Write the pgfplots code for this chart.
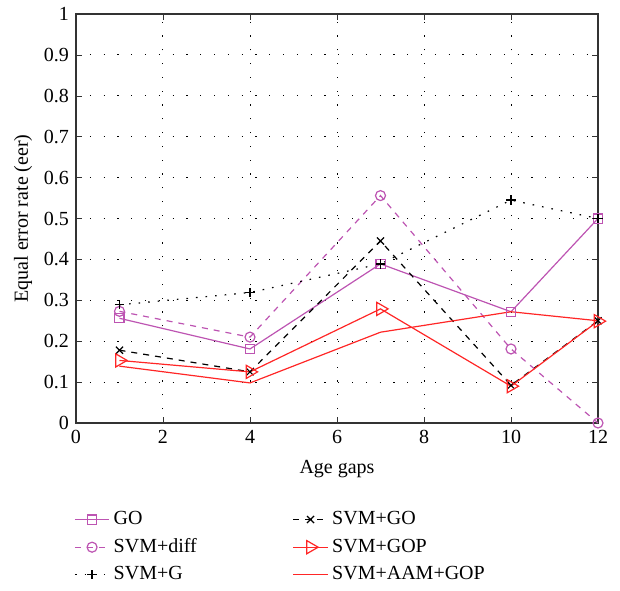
\documentclass[border=0pt]{standalone}
\usepackage{fontspec}
\setmainfont{Liberation Serif}
\usepackage{pgfplots}
\pgfplotsset{compat=1.18}
\definecolor{mag}{rgb}{0.74,0.33,0.70}
\definecolor{myred}{rgb}{1,0.15,0.15}
\begin{document}
\begin{tikzpicture}
\begin{axis}[
  name=ax,
  scale only axis, width=261pt, height=204.5pt,
  xmin=0, xmax=12, ymin=0, ymax=1,
  xtick={0,2,...,12}, ytick={0,0.1,...,1},
  /pgf/number format/assume math mode=true,
  yticklabel style={/pgf/number format/fixed},
  xmajorgrids, ymajorgrids,
  grid style={black, line width=0.5pt, dash pattern=on 0.6pt off 6.3pt},
  axis line style={line width=0.8pt, black!80},
  tick style={black!80},
  tick align=inside,
  major tick length=3pt,
  xlabel={Age gaps}, ylabel={Equal error rate (eer)},
  xlabel style={yshift=-1.5pt},
  ylabel style={yshift=-1pt},
  legend columns=2,
  legend cell align=left,
  legend style={draw=none, at={(rel axis cs:0,0)}, anchor=north west, yshift=-40pt, xshift=-4pt,
    /tikz/every even column/.append style={column sep=46pt},
    row sep=1.5pt},
]
\addplot[mag, mark=square, mark size=2.3pt, line width=0.6pt] coordinates {(1,0.256) (4,0.181) (7,0.389) (10,0.272) (12,0.5)};
\addlegendentry{GO}
\addplot[black, dashed, mark=x, mark size=2.5pt, mark options={solid}, line width=0.6pt] coordinates {(1,0.178) (4,0.125) (7,0.445) (10,0.092) (12,0.25)};
\addlegendentry{SVM+GO}
\addplot[mag, dashed, mark=o, mark size=2.5pt, mark options={solid}, line width=0.6pt] coordinates {(1,0.273) (4,0.21) (7,0.556) (10,0.181) (12,0)};
\addlegendentry{SVM+diff}
\addplot[myred, mark=triangle, mark size=3.8pt, mark options={solid, rotate=-90}, line width=0.6pt] coordinates {(1,0.153) (4,0.125) (7,0.279) (10,0.09) (12,0.249)};
\addlegendentry{SVM+GOP}
\addplot[black, dash pattern=on 0.8pt off 4pt, mark=+, mark size=2.3pt, mark options={solid}, line width=0.6pt] coordinates {(1,0.289) (4,0.319) (7,0.389) (10,0.545) (12,0.5)};
\addlegendentry{SVM+G}
\addplot[myred, line width=0.6pt] coordinates {(1,0.139) (4,0.098) (7,0.222) (10,0.272) (12,0.25)};
\addlegendentry{SVM+AAM+GOP}
\end{axis}
\path (ax.north east) ++(11pt,7pt);
\path (ax.south west) ++(-38pt,-81.5pt);
\end{tikzpicture}
\end{document}
